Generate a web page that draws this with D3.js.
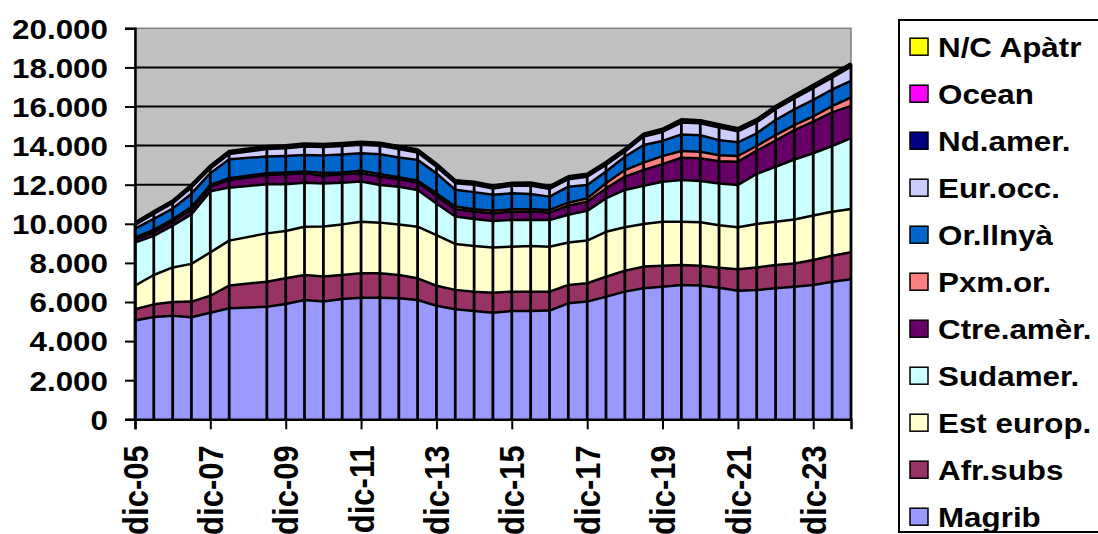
<!DOCTYPE html>
<html lang="ca">
<head>
<meta charset="UTF-8" />
<title>Població estrangera per zones</title>
<style>
  body { margin: 0; background: #fff; }
  svg { display: block; }
  text { font-family: 'Liberation Sans', Arial, sans-serif; font-weight: bold; font-size: 28px; fill: #000; }
</style>
</head>
<body>
<svg id="chart" width="1098" height="534"></svg>
<script src="https://d3js.org/d3.v7.min.js"></script>
<script>
// dates (semestral, jun / dic; dic-08 missing in the source)
const dates = ["2005-12","2006-06","2006-12","2007-06","2007-12","2008-06",
  "2009-06","2009-12","2010-06","2010-12","2011-06","2011-12","2012-06","2012-12",
  "2013-06","2013-12","2014-06","2014-12","2015-06","2015-12","2016-06","2016-12",
  "2017-06","2017-12","2018-06","2018-12","2019-06","2019-12","2020-06","2020-12",
  "2021-06","2021-12","2022-06","2022-12","2023-06","2023-12","2024-06","2024-12"];

const magrib   = [5050,5230,5300,5220,5450,5680,5760,5900,6100,6020,6150,6220,6220,6190,6100,5810,5630,5540,5450,5540,5540,5560,5930,6020,6270,6530,6700,6780,6870,6840,6730,6580,6610,6700,6780,6870,7040,7160];
const afrSubs  = [580,650,700,800,870,1160,1280,1310,1280,1280,1230,1250,1250,1190,1110,1020,990,990,1020,990,990,970,940,940,1020,1070,1110,1070,1020,1010,1020,1090,1160,1190,1190,1280,1330,1380];
const estEurop = [1210,1500,1770,1930,2220,2300,2470,2420,2470,2560,2590,2640,2590,2590,2640,2590,2350,2340,2320,2300,2340,2300,2170,2180,2300,2220,2180,2250,2220,2230,2180,2150,2220,2220,2250,2270,2250,2220];
const sudamer  = [2200,2000,2140,2530,3120,2710,2510,2390,2250,2200,2130,2050,1930,1920,1880,1620,1400,1380,1350,1370,1320,1360,1420,1520,1710,1910,1960,2050,2130,2110,2130,2170,2560,2810,3070,3190,3360,3620];
const ctreAmer = [170,190,200,240,240,390,480,510,480,400,430,430,430,390,380,380,380,380,390,420,440,380,470,470,510,680,800,900,1140,1160,1140,1190,1190,1330,1500,1620,1720,1650];
const pxmOr    = [100,120,120,140,90,90,90,90,90,140,100,120,120,100,100,140,140,120,140,120,120,140,150,170,260,340,380,410,340,340,310,290,240,290,260,260,320,430];
const orLlnya  = [440,560,550,680,600,970,850,850,850,900,920,900,1020,1010,1060,1020,850,870,820,820,780,680,820,680,600,680,900,780,850,840,770,700,650,770,800,850,850,850];
const eurOcc   = [190,260,270,320,240,270,390,390,430,430,430,430,430,440,380,340,340,380,320,390,430,390,380,430,340,260,430,460,610,610,650,560,560,550,560,600,610,730];
const ndAmer   = [80,90,90,100,100,110,110,110,110,110,110,110,110,110,110,110,110,110,110,110,110,110,110,110,110,110,110,120,120,120,120,120,120,120,120,130,130,130];
const ocean    = [10,10,10,10,10,10,10,10,10,10,10,10,10,10,10,10,10,10,10,10,10,10,10,10,10,10,10,10,10,10,10,10,10,10,10,10,10,10];
const ncApatr  = [20,20,20,20,20,20,20,20,20,20,20,20,20,20,20,20,20,20,20,20,20,20,20,20,20,20,20,20,20,20,20,20,20,20,20,20,20,20];

const seriesNames  = ["Magrib","Afr.subs","Est europ.","Sudamer.","Ctre.amèr.","Pxm.or.","Or.llnyà","Eur.occ.","Nd.amer.","Ocean","N/C Apàtr"];
const seriesValues = [magrib, afrSubs, estEurop, sudamer, ctreAmer, pxmOr, orLlnya, eurOcc, ndAmer, ocean, ncApatr];
const seriesColors = ["#9999FF","#993366","#FFFFCC","#CCFFFF","#660066","#FF8080","#0066CC","#CCCCFF","#000080","#FF00FF","#FFFF00"];

const yTicks = [0,2000,4000,6000,8000,10000,12000,14000,16000,18000,20000];
const xTickDates = ["2005-12","2007-12","2009-12","2011-12","2013-12","2015-12","2017-12","2019-12","2021-12","2023-12"];

const parse = d3.timeParse("%Y-%m");
const es = d3.timeFormatLocale({
  dateTime: "%x, %X", date: "%d/%m/%Y", time: "%H:%M:%S", periods: ["AM","PM"],
  days: ["domingo","lunes","martes","miércoles","jueves","viernes","sábado"],
  shortDays: ["dom","lun","mar","mié","jue","vie","sáb"],
  months: ["enero","febrero","marzo","abril","mayo","junio","julio","agosto","septiembre","octubre","noviembre","diciembre"],
  shortMonths: ["ene","feb","mar","abr","may","jun","jul","ago","sep","oct","nov","dic"]
});
const numFmt = d3.formatLocale({ decimal: ",", thousands: ".", grouping: [3], currency: ["", " €"] }).format(",");

const rows = dates.map((d, i) => {
  const r = { date: parse(d) };
  seriesNames.forEach((n, k) => r[n] = seriesValues[k][i]);
  return r;
});

const svg = d3.select("#chart");
const plot = { left: 135, right: 851, top: 28.3, bottom: 419.3 };
const STRETCH = 1.12;

const x = d3.scaleTime().domain([parse("2005-12"), parse("2024-12")]).range([plot.left, plot.right]);
const y = d3.scaleLinear().domain([0, 20000]).range([plot.bottom, plot.top]);

const stacked = d3.stack().keys(seriesNames)(rows);

// plot background
svg.append("rect")
  .attr("x", plot.left).attr("y", plot.top)
  .attr("width", plot.right - plot.left).attr("height", plot.bottom - plot.top)
  .attr("fill", "#C0C0C0").attr("stroke", "#808080").attr("stroke-width", 1.5);

// gridlines
svg.append("g").selectAll("line")
  .data(yTicks.filter(v => v > 0 && v < 20000))
  .join("line")
  .attr("x1", plot.left).attr("x2", plot.right)
  .attr("y1", d => y(d)).attr("y2", d => y(d))
  .attr("stroke", "#000").attr("stroke-width", 2);

const area = d3.area()
  .x(d => x(d.data.date))
  .y0(d => y(d[0]))
  .y1(d => y(d[1]));

const topLine = d3.line()
  .x(d => x(d.data.date))
  .y(d => y(d[1]));

svg.append("g").selectAll("path")
  .data(stacked)
  .join("path")
  .attr("d", area)
  .attr("fill", (d, i) => seriesColors[i]);

// drop lines
const totals = stacked[stacked.length - 1];
svg.append("g").selectAll("line")
  .data(totals)
  .join("line")
  .attr("x1", d => x(d.data.date)).attr("x2", d => x(d.data.date))
  .attr("y1", y(0)).attr("y2", d => y(d[1]))
  .attr("stroke", "#000").attr("stroke-width", 2.8);

svg.append("g").selectAll("path")
  .data(stacked)
  .join("path")
  .attr("d", topLine)
  .attr("fill", "none")
  .attr("stroke", "#000")
  .attr("stroke-width", (d, i) => i === stacked.length - 1 ? 3 : 2.5)
  .attr("stroke-linejoin", "round");

// y axis
const yAxis = svg.append("g")
  .attr("transform", `translate(${plot.left},0)`)
  .call(d3.axisLeft(y).tickValues(yTicks).tickSize(10).tickFormat(numFmt));
yAxis.select(".domain").attr("stroke", "#000").attr("stroke-width", 2.5);
yAxis.selectAll(".tick line").attr("stroke", "#000").attr("stroke-width", 2);
yAxis.selectAll(".tick text")
  .attr("x", 0).attr("dy", "0.35em")
  .attr("text-anchor", "end")
  .attr("transform", `translate(-27,0) scale(${STRETCH},1)`)
  .style("font-size", "28px").style("font-family", null);

// x axis
const xAxis = svg.append("g")
  .attr("transform", `translate(0,${plot.bottom})`)
  .call(d3.axisBottom(x).tickValues(xTickDates.map(parse)).tickSize(10).tickFormat(es.format("%b-%y")));
xAxis.select(".domain").attr("stroke", "#000").attr("stroke-width", 2.5);
xAxis.selectAll(".tick line").attr("stroke", "#000").attr("stroke-width", 2);
xAxis.selectAll(".tick text")
  .attr("y", 0).attr("dy", "0.35em")
  .attr("text-anchor", "end")
  .attr("transform", `translate(0,26) scale(${STRETCH},1) rotate(-90)`)
  .style("font-size", "31px").style("font-family", null);
svg.selectAll(".tick text").attr("fill", "#000");

// legend (reverse stack order)
const legend = svg.append("g");
legend.append("rect")
  .attr("x", 899).attr("y", 20).attr("width", 215).attr("height", 512)
  .attr("fill", "#fff").attr("stroke", "#000").attr("stroke-width", 2);

const legendItems = seriesNames.map((n, i) => ({ name: n, color: seriesColors[i] })).reverse();
const item = legend.selectAll("g.item")
  .data(legendItems)
  .join("g")
  .attr("class", "item")
  .attr("transform", (d, i) => `translate(0,${46.7 + i * 47})`);
item.append("rect")
  .attr("x", 910).attr("y", -8.5).attr("width", 18).attr("height", 17)
  .attr("fill", d => d.color).attr("stroke", "#000").attr("stroke-width", 1.5);
item.append("text")
  .attr("transform", `translate(938,0) scale(${STRETCH},1)`)
  .attr("dy", "0.35em")
  .text(d => d.name);
</script>
</body>
</html>
